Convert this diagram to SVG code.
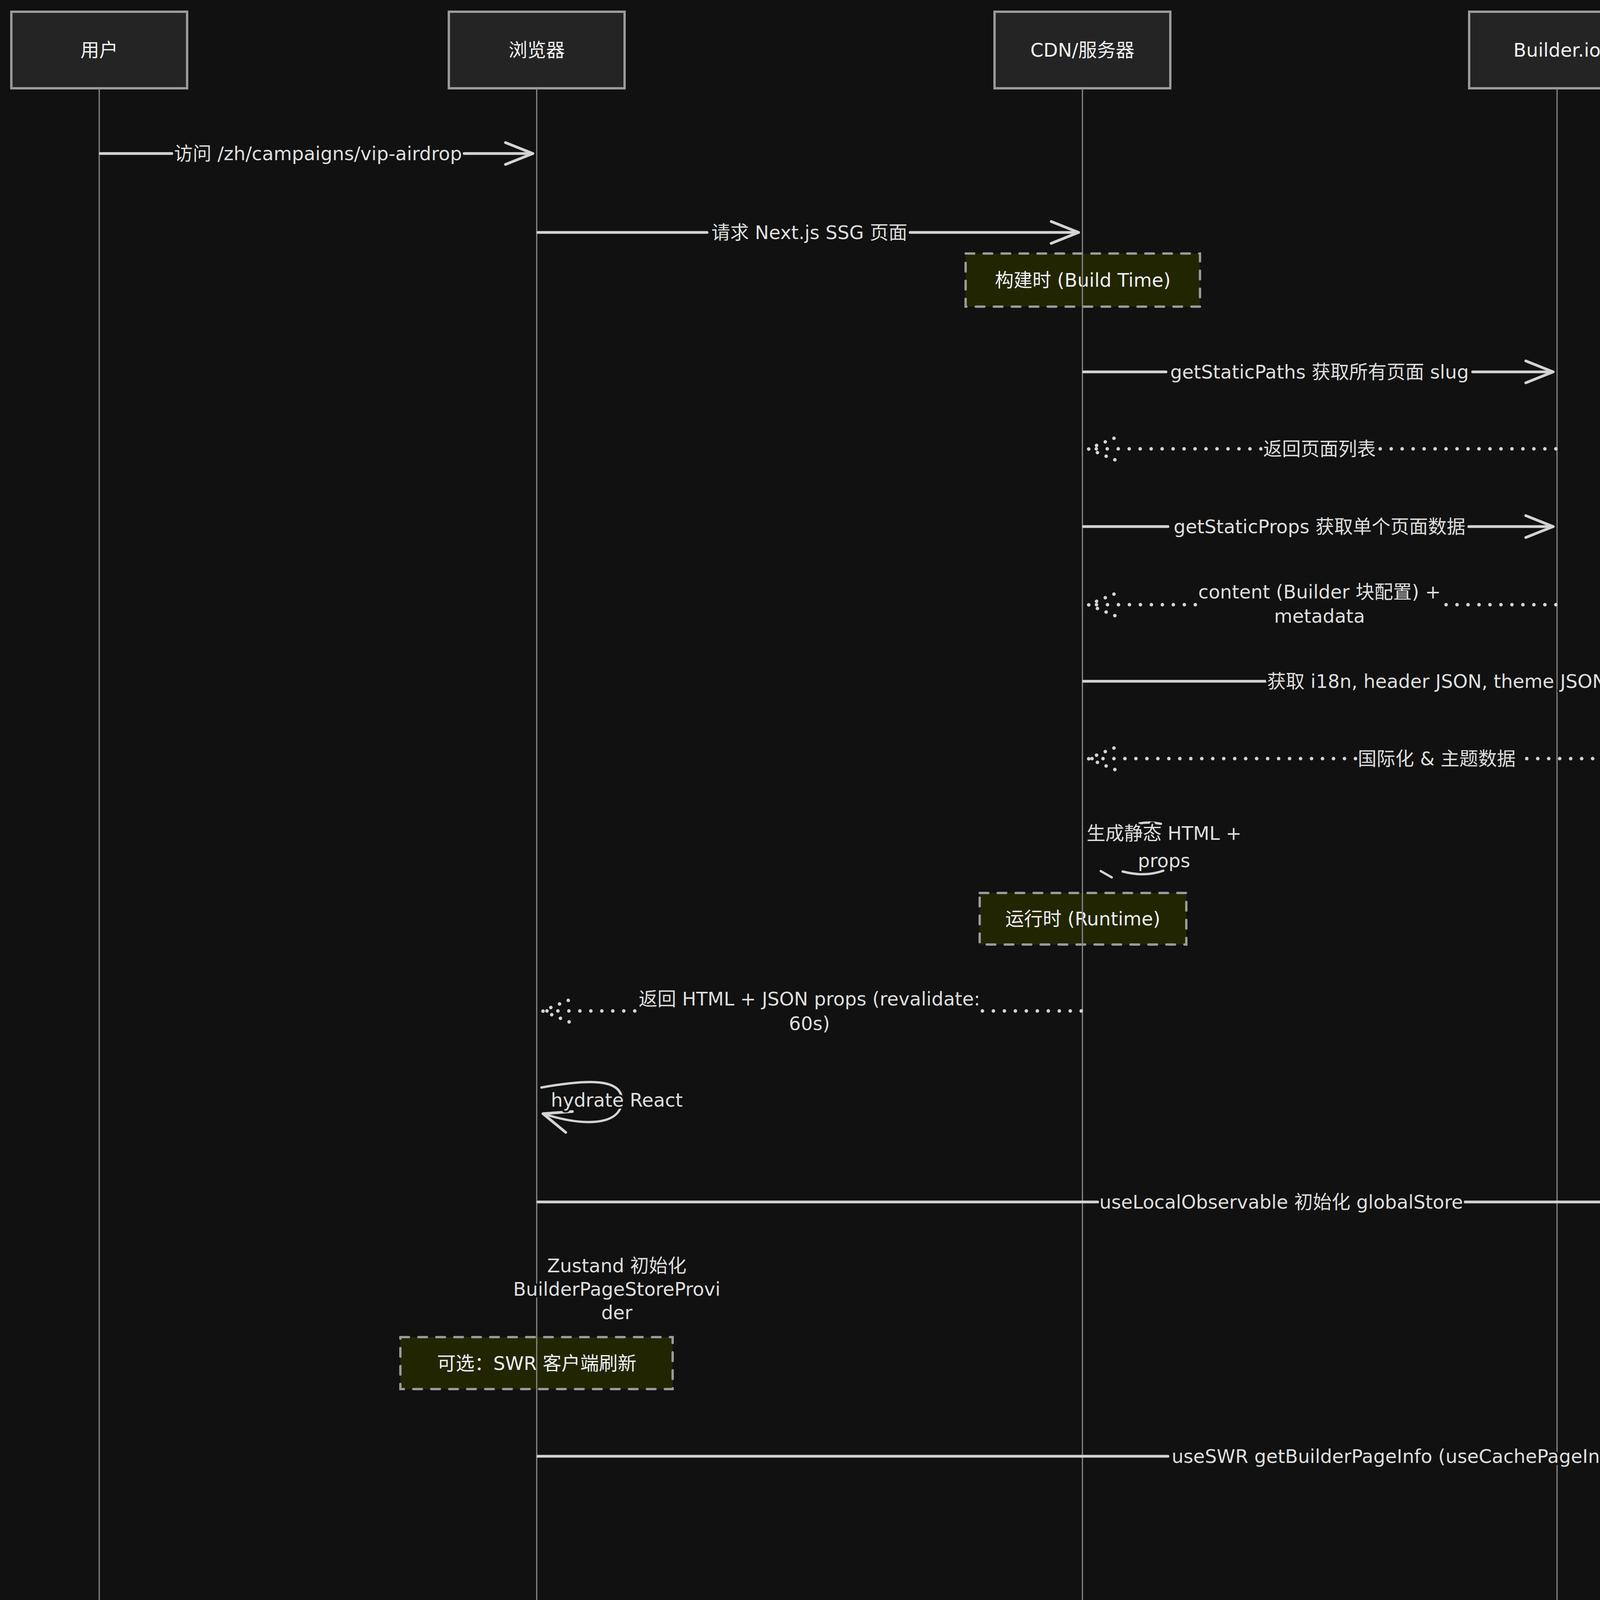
<svg xmlns="http://www.w3.org/2000/svg" width="6042" height="6090" viewBox="0 0 6042 6090">
<style>
.bg{fill:#111111}
.actor rect{fill:#242424;stroke:#9a9a9a;stroke-width:6}
.actor text,.lbl,.note text{font-family:"DejaVu Sans","Noto Sans CJK SC",sans-serif;font-size:48px;text-anchor:middle;dominant-baseline:central}
.actor text{fill:#f2f2f2}
.life{stroke:#8a8a8a;stroke-width:3;fill:none}
.msg{stroke:#d4d4d4;stroke-width:7;fill:none;stroke-linecap:round}
.dot{stroke:#d4d4d4;stroke-width:9;fill:none;stroke-linecap:round;stroke-dasharray:0.1 28}
.lbl{fill:#dedede;paint-order:stroke;stroke:#111111;stroke-width:10px;stroke-linejoin:round}
.note rect{fill:#222600;stroke:#9a9a9a;stroke-width:6;stroke-dasharray:22 24;stroke-linecap:round}
.note text{fill:#f0f0f0}
.loop{stroke:#d4d4d4;stroke-width:6;fill:none;stroke-linecap:round}
</style>
<defs>
<marker id="ah" markerUnits="userSpaceOnUse" viewBox="-80 -40 90 80" refX="0" refY="0" markerWidth="90" markerHeight="80" orient="auto" overflow="visible">
<path d="M-70,-28 L0,0 L-70,28" fill="none" stroke="#d4d4d4" stroke-width="7" stroke-linecap="round" stroke-linejoin="round"/>
</marker>
<marker id="ahd" markerUnits="userSpaceOnUse" viewBox="-80 -40 90 80" refX="0" refY="0" markerWidth="90" markerHeight="80" orient="auto" overflow="visible">
<path d="M-68,-28 L0,0 L-68,28" fill="none" stroke="#d4d4d4" stroke-width="9" stroke-linecap="round" stroke-dasharray="0.1 24"/>
</marker>
</defs>
<rect class="bg" x="0" y="0" width="6042" height="6090"/>

<g id="notes">
<g id="note-build" class="note"><rect x="2472" y="649" width="600" height="136"/><text x="2772" y="717">构建时 (Build Time)</text></g>
<g id="note-runtime" class="note"><rect x="2508" y="2286" width="529" height="132"/><text x="2772" y="2352">运行时 (Runtime)</text></g>
<g id="note-swr" class="note"><rect x="1025" y="3423" width="697" height="133"/><text x="1374" y="3490">可选：SWR 客户端刷新</text></g>
</g>

<g id="lifelines">
<line class="life" x1="254" y1="228" x2="254" y2="5864"/>
<line class="life" x1="1374" y1="228" x2="1374" y2="5864"/>
<line class="life" x1="2771" y1="228" x2="2771" y2="5864"/>
<line class="life" x1="3986" y1="228" x2="3986" y2="5864"/>
<line class="life" x1="4586" y1="228" x2="4586" y2="5864"/>
<line class="life" x1="5187" y1="228" x2="5187" y2="5864"/>
<line class="life" x1="5787" y1="228" x2="5787" y2="5864"/>
</g>

<g id="actor-user" class="actor"><rect x="29" y="30" width="450" height="196"/><text x="254" y="128">用户</text><rect x="29" y="5864" width="450" height="196"/><text x="254" y="5962">用户</text></g>
<g id="actor-browser" class="actor"><rect x="1149" y="30" width="450" height="196"/><text x="1374" y="128">浏览器</text><rect x="1149" y="5864" width="450" height="196"/><text x="1374" y="5962">浏览器</text></g>
<g id="actor-cdn" class="actor"><rect x="2546" y="30" width="450" height="196"/><text x="2771" y="128">CDN/服务器</text><rect x="2546" y="5864" width="450" height="196"/><text x="2771" y="5962">CDN/服务器</text></g>
<g id="actor-builder" class="actor"><rect x="3761" y="30" width="450" height="196"/><text x="3986" y="128">Builder.io</text><rect x="3761" y="5864" width="450" height="196"/><text x="3986" y="5962">Builder.io</text></g>
<g id="actor-gate" class="actor"><rect x="4361" y="30" width="450" height="196"/><text x="4586" y="128">Gate API</text><rect x="4361" y="5864" width="450" height="196"/><text x="4586" y="5962">Gate API</text></g>
<g id="actor-mobx" class="actor"><rect x="4962" y="30" width="450" height="196"/><text x="5187" y="128">MobX状态</text><rect x="4962" y="5864" width="450" height="196"/><text x="5187" y="5962">MobX状态</text></g>
<g id="actor-swr" class="actor"><rect x="5562" y="30" width="450" height="196"/><text x="5787" y="128">客户端SWR</text><rect x="5562" y="5864" width="450" height="196"/><text x="5787" y="5962">客户端SWR</text></g>

<g id="connectors">
<path class="msg" d="M257,393 H440"/><path class="msg" d="M1188,393 H1364" marker-end="url(#ah)"/>
<path class="msg" d="M1377,595 H1810"/><path class="msg" d="M2330,595 H2761" marker-end="url(#ah)"/>
<path class="msg" d="M2774,952 H2985"/><path class="msg" d="M3770,952 H3976" marker-end="url(#ah)"/>
<path class="dot" d="M3983,1149 H3528"/><path class="dot" d="M3228,1149 H2786" marker-end="url(#ahd)"/>
<path class="msg" d="M2774,1348 H2990"/><path class="msg" d="M3760,1348 H3976" marker-end="url(#ah)"/>
<path class="dot" d="M3983,1548 H3696"/><path class="dot" d="M3060,1548 H2786" marker-end="url(#ahd)"/>
<path class="msg" d="M2774,1744 H3240"/><path class="msg" d="M4116,1744 H4576" marker-end="url(#ah)"/>
<path class="dot" d="M4583,1942 H3890"/><path class="dot" d="M3470,1942 H2786" marker-end="url(#ahd)"/>
<path class="loop" d="M2818,2230 L2846,2246"/><path class="loop" d="M2874,2231 Q2930,2246 2978,2229"/><path class="loop" d="M2916,2108 Q2945,2103 2972,2109"/>
<path class="dot" d="M2768,2588 H2515"/><path class="dot" d="M1625,2588 H1389" marker-end="url(#ahd)"/>
<path class="loop" d="M1386,2784 C1500,2764 1594,2758 1592,2818 C1590,2880 1500,2886 1390,2851" marker-end="url(#ah)"/>
<path class="msg" d="M1377,3077 H2810"/><path class="msg" d="M3750,3077 H5177" marker-end="url(#ah)"/>
<path class="msg" d="M1377,3728 H2990"/><path class="msg" d="M4168,3728 H5777" marker-end="url(#ah)"/>
<path class="msg" d="M5784,3926 H5484"/><path class="msg" d="M4888,3926 H4596" marker-end="url(#ah)"/>
<path class="dot" d="M4589,4118 H5060"/><path class="dot" d="M5310,4118 H5772" marker-end="url(#ahd)"/>
<path class="dot" d="M5784,4316 H3730"/><path class="dot" d="M3430,4316 H1389" marker-end="url(#ahd)"/>
<path class="loop" d="M1422,4605 L1456,4625"/><path class="loop" d="M1463,4606 Q1520,4618 1581,4604"/><path class="loop" d="M1524,4480 Q1543,4477 1562,4481"/>
<path class="msg" d="M1377,5093 H2530"/><path class="msg" d="M3425,5093 H4576" marker-end="url(#ah)"/>
<path class="dot" d="M4583,5286 H3130"/><path class="dot" d="M2830,5286 H1389" marker-end="url(#ahd)"/>
<path class="loop" d="M1422,5578 L1451,5594"/><path class="loop" d="M1460,5581 Q1520,5593 1581,5579"/><path class="loop" d="M1511,5456 Q1536,5452 1562,5457"/>
<path class="dot" d="M1371,5778 H962"/><path class="dot" d="M665,5778 H269" marker-end="url(#ahd)"/>
</g>

<g id="labels">
<text class="lbl" x="814" y="393">访问 /zh/campaigns/vip-airdrop</text>
<text class="lbl" x="2072" y="595">请求 Next.js SSG 页面</text>
<text class="lbl" x="3378" y="952">getStaticPaths 获取所有页面 slug</text>
<text class="lbl" x="3378" y="1149">返回页面列表</text>
<text class="lbl" x="3378" y="1348">getStaticProps 获取单个页面数据</text>
<text class="lbl" x="3378" y="1515">content (Builder 块配置) +</text>
<text class="lbl" x="3378" y="1577">metadata</text>
<text class="lbl" x="3678" y="1744">获取 i18n, header JSON, theme JSON</text>
<text class="lbl" x="3678" y="1942">国际化 &amp; 主题数据</text>
<text class="lbl" x="2980" y="2133">生成静态 HTML +</text>
<text class="lbl" x="2980" y="2203">props</text>
<text class="lbl" x="2072" y="2557">返回 HTML + JSON props (revalidate:</text>
<text class="lbl" x="2072" y="2620">60s)</text>
<text class="lbl" x="1579" y="2816">hydrate React</text>
<text class="lbl" x="3280" y="3077">useLocalObservable 初始化 globalStore</text>
<text class="lbl" x="1579" y="3240">Zustand 初始化</text>
<text class="lbl" x="1579" y="3300">BuilderPageStoreProvi</text>
<text class="lbl" x="1579" y="3360">der</text>
<text class="lbl" x="3580" y="3728">useSWR getBuilderPageInfo (useCachePageInfo)</text>
<text class="lbl" x="5186" y="3926">获取最新 Builder 页面配置</text>
<text class="lbl" x="5186" y="4118">返回新数据</text>
<text class="lbl" x="3580" y="4316">更新本地缓存</text>
<text class="lbl" x="1579" y="4513">Content 渲染 Builder</text>
<text class="lbl" x="1579" y="4572">块</text>
<text class="lbl" x="1579" y="4769">注册的</text>
<text class="lbl" x="1579" y="4832">customComponents 初</text>
<text class="lbl" x="1579" y="4890">始化</text>
<text class="lbl" x="2980" y="5093">组件内 hook 调用 (任务列表、排行榜等)</text>
<text class="lbl" x="2980" y="5286">返回业务数据</text>
<text class="lbl" x="1579" y="5483">observer 组件感知</text>
<text class="lbl" x="1579" y="5544">MobX 更新</text>
<text class="lbl" x="814" y="5778">完整页面交互</text>
</g>
</svg>
